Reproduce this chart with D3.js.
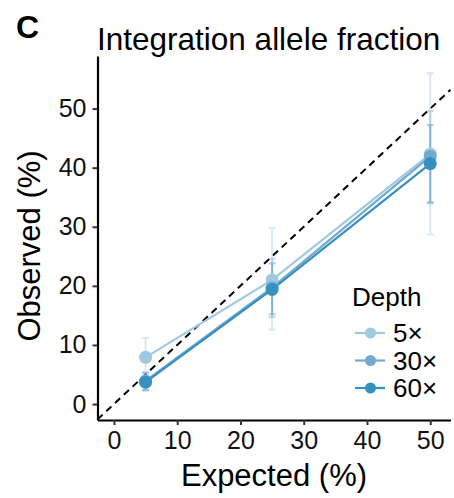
<!DOCTYPE html>
<html>
<head>
<meta charset="utf-8">
<script src="https://cdn.jsdelivr.net/npm/d3@7"></script>
<style>
  body { margin: 0; background: #fff; }
  svg { display: block; font-family: "Liberation Sans", Arial, sans-serif; }
</style>
</head>
<body>
<svg id="chart" width="454" height="498"></svg>
<script>
// expected allele fraction (%)
const expected = [5, 25, 50];
const depths = ["5×", "30×", "60×"];
const depthColors = ["#9ecae1", "#74a9cf", "#3690c0"];

// observed mean and error range per depth
const observed5 = [7.9, 21.0, 42.3];
const lower5 = [4.6, 12.6, 28.7];
const upper5 = [11.2, 29.8, 56.0];

const observed30 = [3.9, 19.7, 41.9];
const lower30 = [2.4, 14.7, 34.2];
const upper30 = [5.4, 24.6, 49.6];

const observed60 = [3.7, 19.4, 40.7];
const lower60 = [2.3, 15.2, 34.0];
const upper60 = [5.2, 23.8, 47.2];

const xTicks = [0, 10, 20, 30, 40, 50];
const yTicks = [0, 10, 20, 30, 40, 50];

const series = [
    { key: depths[0], color: depthColors[0], obs: observed5, lo: lower5, hi: upper5 },
    { key: depths[1], color: depthColors[1], obs: observed30, lo: lower30, hi: upper30 },
    { key: depths[2], color: depthColors[2], obs: observed60, lo: lower60, hi: upper60 }
].map(s => ({ ...s, values: expected.map((e, i) => ({ x: e, y: s.obs[i], lo: s.lo[i], hi: s.hi[i] })) }));

const svg = d3.select("#chart");

const xScale = d3.scaleLinear().domain([-2.6, 53.2]).range([97.5, 450.5]);
const yScale = d3.scaleLinear().domain([-2.7, 58.9]).range([420, 56]);

// panel letter + title
svg.append("text")
    .attr("x", 16).attr("y", 38)
    .style("font-size", "32px").style("font-weight", "bold")
    .text("C");

svg.append("text")
    .attr("x", 97).attr("y", 50)
    .style("font-size", "31.5px")
    .text("Integration allele fraction");

// identity line
const dom = xScale.domain();
svg.append("line")
    .attr("x1", xScale(dom[0])).attr("y1", yScale(dom[0]))
    .attr("x2", xScale(dom[1])).attr("y2", yScale(dom[1]))
    .attr("stroke", "#000")
    .attr("stroke-width", 2)
    .attr("stroke-dasharray", "7,5");

// error bars
series.forEach(s => {
    const g = svg.append("g").attr("stroke", s.color).attr("stroke-width", 2).attr("opacity", 0.4);
    s.values.forEach(d => {
        const cx = xScale(d.x);
        g.append("line").attr("x1", cx).attr("x2", cx).attr("y1", yScale(d.lo)).attr("y2", yScale(d.hi));
        g.append("line").attr("x1", cx - 3.5).attr("x2", cx + 3.5).attr("y1", yScale(d.lo)).attr("y2", yScale(d.lo));
        g.append("line").attr("x1", cx - 3.5).attr("x2", cx + 3.5).attr("y1", yScale(d.hi)).attr("y2", yScale(d.hi));
    });
});

// lines
const lineGenerator = d3.line().x(d => xScale(d.x)).y(d => yScale(d.y));

svg.selectAll(".line")
    .data(series)
    .enter().append("path")
    .attr("class", "line")
    .attr("d", d => lineGenerator(d.values))
    .attr("fill", "none")
    .attr("stroke", d => d.color)
    .attr("stroke-width", 2.2);

// points
series.forEach(s => {
    svg.selectAll(null)
        .data(s.values)
        .enter().append("circle")
        .attr("cx", d => xScale(d.x))
        .attr("cy", d => yScale(d.y))
        .attr("r", 6.5)
        .attr("fill", s.color);
});

// axes
const xAxis = svg.append("g")
    .attr("transform", `translate(0,${yScale.range()[0]})`)
    .call(d3.axisBottom(xScale).tickValues(xTicks).tickSize(5).tickPadding(6).tickSizeOuter(0));

const yAxis = svg.append("g")
    .attr("transform", `translate(${xScale.range()[0]},0)`)
    .call(d3.axisLeft(yScale).tickValues(yTicks).tickSize(5).tickPadding(6).tickSizeOuter(0));

[xAxis, yAxis].forEach(a => {
    a.select(".domain").attr("stroke", "#000").attr("stroke-width", 2.2);
    a.selectAll(".tick line").attr("stroke", "#333").attr("stroke-width", 2);
    a.selectAll(".tick text")
        .attr("fill", "#111")
        .style("font-family", "'Liberation Sans', Arial, sans-serif")
        .style("font-size", "25px");
});

// axis titles
svg.append("text")
    .attr("x", 274).attr("y", 486)
    .attr("text-anchor", "middle")
    .style("font-size", "31px")
    .text("Expected (%)");

svg.append("text")
    .attr("transform", "rotate(-90)")
    .attr("x", -246).attr("y", 40)
    .attr("text-anchor", "middle")
    .style("font-size", "31px")
    .text("Observed (%)");

// legend
const legend = svg.append("g").attr("transform", "translate(352,0)");
legend.append("text")
    .attr("x", 0).attr("y", 306)
    .style("font-size", "26px")
    .text("Depth");

const rows = legend.selectAll(".row")
    .data(series)
    .enter().append("g")
    .attr("class", "row")
    .attr("transform", (d, i) => `translate(0,${333 + i * 27.5})`);

rows.append("line")
    .attr("x1", 3).attr("x2", 33)
    .attr("stroke", d => d.color)
    .attr("stroke-width", 2.2);

rows.append("circle")
    .attr("cx", 18.5).attr("r", 5.5)
    .attr("fill", d => d.color);

rows.append("text")
    .attr("x", 41).attr("y", 0)
    .attr("dy", "0.36em")
    .style("font-size", "26px")
    .text(d => d.key);
</script>
</body>
</html>
